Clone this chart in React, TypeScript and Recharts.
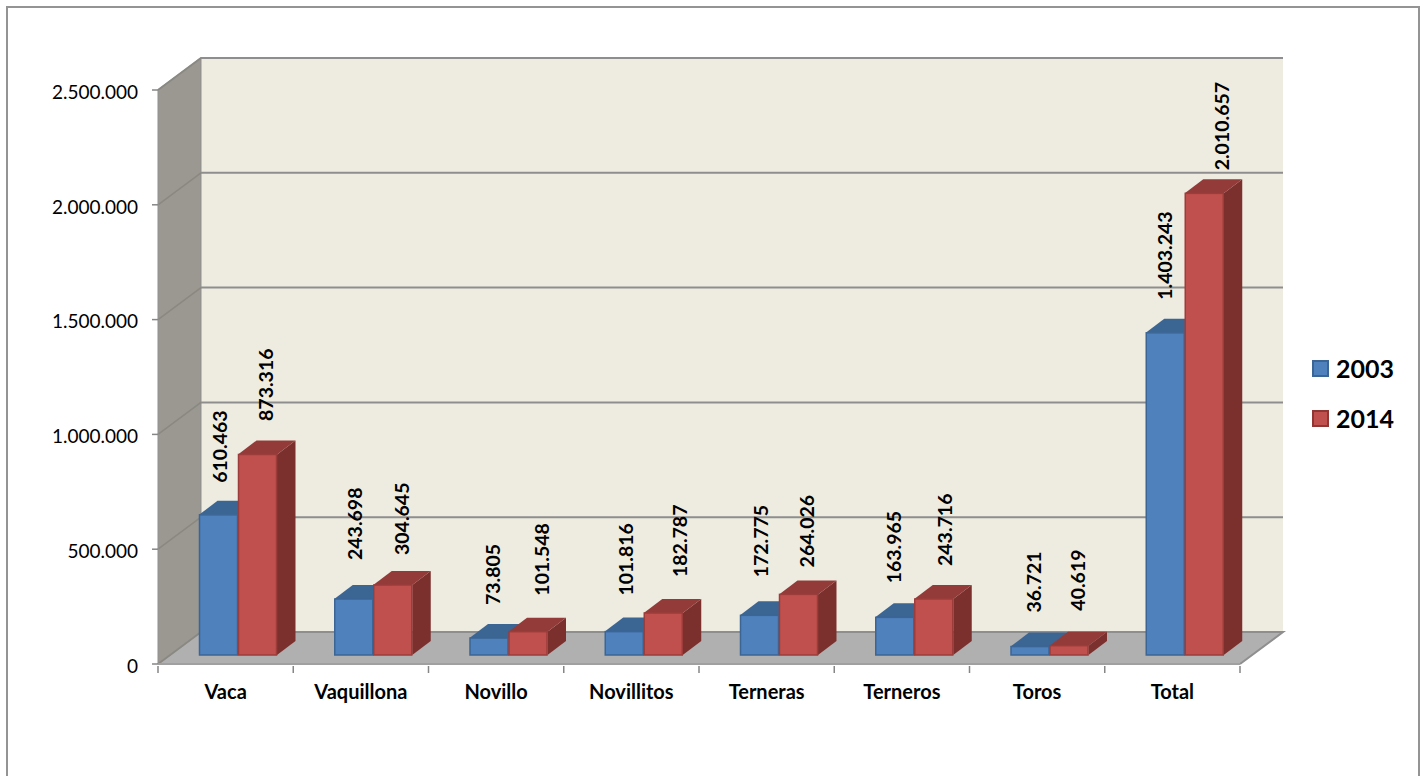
import React from 'react'
import {
  BarChart,
  Bar,
  XAxis,
  YAxis,
  CartesianGrid,
  Legend,
  usePlotArea,
} from 'recharts'

const categories = ['Vaca', 'Vaquillona', 'Novillo', 'Novillitos', 'Terneras', 'Terneros', 'Toros', 'Total']
const values2003 = [610463, 243698, 73805, 101816, 172775, 163965, 36721, 1403243]
const values2014 = [873316, 304645, 101548, 182787, 264026, 243716, 40619, 2010657]
const yTicks = [0, 500000, 1000000, 1500000, 2000000, 2500000]

// hand placed data labels in the original: [dx from bar centre, gap above the bar]
const labelNudge2003 = [[1.5, 32], [1.25, 39], [3.7, 33], [1.75, 36], [1.2, 38], [-0.75, 34], [4, 34], [0, 33]]
const labelNudge2014 = [[8.5, 33.5], [9, 30], [13.7, 36], [16.75, 36], [8.5, 27], [11.25, 33], [9, 35], [17.5, 23]]

const data = categories.map((name, i) => ({ name, y2003: values2003[i], y2014: values2014[i] }))

const FONT = 'Lato, Carlito, Calibri, sans-serif'
const WALL_DX = 43
const WALL_DY = -32
const BAR_DX = 12
const BAR_DY = -9
const DEPTH_X = 18.5
const DEPTH_Y = -14

const dots = (v: number) => String(v).replace(/\B(?=(\d{3})+(?!\d))/g, '.')

function Room() {
  const area = usePlotArea()
  if (!area) return null
  const { x, y, width, height } = area
  const b = y + height
  const r = x + width
  return (
    <g>
      <rect x={x + WALL_DX} y={y + WALL_DY} width={width} height={height} fill="#eeece1" />
      <polygon
        points={`${x},${y} ${x + WALL_DX},${y + WALL_DY} ${x + WALL_DX},${b + WALL_DY} ${x},${b}`}
        fill="#9a9890"
      />
      <polygon
        points={`${x},${b} ${x + WALL_DX},${b + WALL_DY} ${r + WALL_DX},${b + WALL_DY} ${r},${b}`}
        fill="#b0b0b0"
      />
      <polyline
        points={`${x},${y} ${x + WALL_DX},${y + WALL_DY} ${r + WALL_DX},${y + WALL_DY}`}
        fill="none"
        stroke="#8f8f8f"
        strokeWidth={2}
      />
      <line x1={x + WALL_DX} y1={y + WALL_DY} x2={x + WALL_DX} y2={b + WALL_DY} stroke="#8f8f8f" strokeWidth={1} />
      <polyline
        points={`${x},${b} ${x + WALL_DX},${b + WALL_DY} ${r + WALL_DX},${b + WALL_DY} ${r},${b}`}
        fill="none"
        stroke="#8f8f8f"
        strokeWidth={2}
      />
    </g>
  )
}

function GridLine(props: any) {
  const { x1, x2, y1 } = props
  return (
    <g key={props.key}>
      <line x1={x1} y1={y1} x2={x1 + WALL_DX} y2={y1 + WALL_DY} stroke="#8a8880" strokeWidth={1.5} />
      <line x1={x1 + WALL_DX} y1={y1 + WALL_DY} x2={x2 + WALL_DX} y2={y1 + WALL_DY} stroke="#8e8e8e" strokeWidth={2} />
    </g>
  )
}

function bar3d(front: string, edge: string, top: string, side: string) {
  return (props: any) => {
    const { x, y, width, height } = props
    const fx = x + BAR_DX
    const fy = y + BAR_DY
    return (
      <g>
        <polygon
          points={`${fx + width},${fy} ${fx + width + DEPTH_X},${fy + DEPTH_Y} ${fx + width + DEPTH_X},${fy + height + DEPTH_Y} ${fx + width},${fy + height}`}
          fill={side}
        />
        <polygon
          points={`${fx},${fy} ${fx + DEPTH_X},${fy + DEPTH_Y} ${fx + width + DEPTH_X},${fy + DEPTH_Y} ${fx + width},${fy}`}
          fill={top}
        />
        <rect x={fx + 0.5} y={fy} width={width - 1} height={height} fill={front} stroke={edge} strokeWidth={1.5} />
      </g>
    )
  }
}

function barLabel(nudge: number[][]) {
  return (props: any) => {
    const { x, y, width, value, index } = props
    const [dx, gap] = nudge[index]
    const cx = x + BAR_DX + width / 2 + dx
    const by = y + BAR_DY - gap
    return (
      <text
        transform={`translate(${cx + 7},${by}) rotate(-90)`}
        fontFamily={FONT}
        fontWeight={700}
        fontSize={19.5}
        fill="#000"
      >
        {dots(value)}
      </text>
    )
  }
}

function CategoryTick(props: any) {
  const { x, y, payload, index } = props
  const half = 1082 / categories.length / 2
  return (
    <g>
      <line x1={x - half} y1={y} x2={x - half} y2={y + 7} stroke="#868686" strokeWidth={1.5} />
      {index === categories.length - 1 && (
        <line x1={x + half} y1={y} x2={x + half} y2={y + 7} stroke="#868686" strokeWidth={1.5} />
      )}
      <text x={x} y={y + 33} textAnchor="middle" fontFamily={FONT} fontWeight={700} fontSize={20} fill="#000">
        {payload.value}
      </text>
    </g>
  )
}

function LegendBox(props: any) {
  return (
    <div>
      {props.payload.map((p: any) => (
        <div key={p.value} style={{ display: 'flex', alignItems: 'center', height: 50 }}>
          <span
            style={{
              display: 'inline-block',
              width: 13,
              height: 13,
              background: p.color,
              border: `2px solid ${p.value === '2003' ? '#3a6595' : '#8f3634'}`,
              marginRight: 7,
            }}
          />
          <span style={{ fontFamily: FONT, fontWeight: 700, fontSize: 25, color: '#000' }}>{p.value}</span>
        </div>
      ))}
    </div>
  )
}

export default function App() {
  return (
    <div style={{ position: 'absolute', left: 0, top: 0, width: 1424, height: 776, overflow: 'hidden', background: '#fff' }}>
      <div
        style={{
          position: 'absolute',
          left: 6,
          top: 6,
          width: 1410,
          height: 800,
          border: '2px solid #949494',
        }}
      />
      <BarChart
        width={1424}
        height={776}
        data={data}
        margin={{ top: 90, right: 184, bottom: 0, left: 0 }}
        barSize={39}
        barGap={0}
      >
        <Room />
        <CartesianGrid vertical={false} horizontal={GridLine} zIndex={1} />
        <XAxis
          dataKey="name"
          height={112}
          interval={0}
          axisLine={{ stroke: '#a0a0a0', strokeWidth: 2 }}
          tickLine={false}
          tickSize={0}
          tick={CategoryTick}
        />
        <YAxis
          width={158}
          domain={[0, 2500000]}
          ticks={yTicks}
          interval={0}
          tickFormatter={dots}
          axisLine={{ stroke: '#8f8f8f', strokeWidth: 1 }}
          tickLine={{ stroke: '#868686', strokeWidth: 1.5 }}
          tickSize={6}
          tickMargin={14}
          tick={{ fontFamily: FONT, fontSize: 19, fill: '#000', dy: 2 }}
        />
        <Bar
          dataKey="y2003"
          name="2003"
          fill="#4f81bd"
          isAnimationActive={false}
          shape={bar3d('#4f81bd', '#3a6595', '#3b6593', '#345a85')}
          label={barLabel(labelNudge2003)}
        />
        <Bar
          dataKey="y2014"
          name="2014"
          fill="#c0504d"
          isAnimationActive={false}
          shape={bar3d('#c0504d', '#9c3d3b', '#923b39', '#7b302e')}
          label={barLabel(labelNudge2014)}
        />
        <Legend
          layout="vertical"
          align="center"
          verticalAlign="middle"
          content={LegendBox}
          wrapperStyle={{ left: 1312, top: 343, width: 100, right: 'auto', bottom: 'auto' }}
        />
      </BarChart>
    </div>
  )
}
